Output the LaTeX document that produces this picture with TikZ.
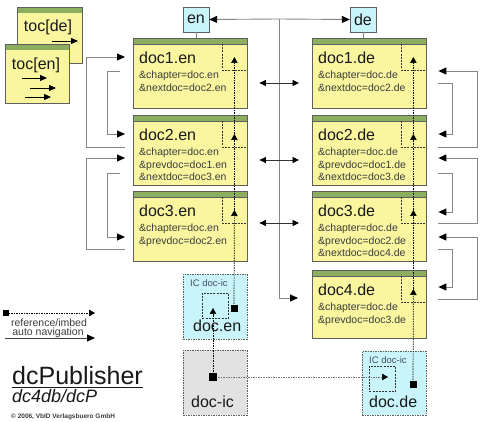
\documentclass[tikz,border=0pt]{standalone}
\usepackage{fontspec}
\setmainfont{Liberation Sans}
\usetikzlibrary{arrows.meta,calc}
\definecolor{yel}{RGB}{250,246,160}
\definecolor{barc}{RGB}{140,175,95}
\definecolor{boxc}{RGB}{95,95,95}
\definecolor{cyanf}{RGB}{200,244,250}
\definecolor{grayf}{RGB}{226,226,226}
\definecolor{linec}{RGB}{135,135,135}
\definecolor{txtc}{RGB}{25,25,25}
\definecolor{subc}{RGB}{60,60,60}
\definecolor{icc}{RGB}{70,80,100}
\tikzset{
  docbox/.style={fill=yel, minimum width=114pt, minimum height=70pt, inner sep=0, anchor=north west},
  ttl/.style={font=\fontsize{16}{18}\selectfont, text=txtc, inner sep=0, anchor=west},
  sub/.style={font=\fontsize{10.5}{12.5}\selectfont, text=subc, inner sep=0, anchor=north west, align=left},
  cornerl/.style={draw=black!80, dash pattern=on 2pt off 1.2pt, line width=0.6pt},
  nav/.style={draw=linec, line width=0.9pt, -{Triangle[color=black,length=8pt,width=7pt]}},
  dbl/.style={draw=black!80, line width=0.9pt, {Triangle[color=black,length=6.5pt,width=6pt]}-{Triangle[color=black,length=6.5pt,width=6pt]}},
  refl/.style={draw=black, dash pattern=on 1.5pt off 1pt, line width=0.7pt, -{Triangle[color=black,length=6pt,width=6.5pt]}},
  tocarr/.style={draw=black, line width=0.8pt, -{Triangle[color=black,length=7pt,width=6pt]}},
  sq/.style={fill=black, inner sep=0, minimum size=7pt},
  langbox/.style={draw=boxc, fill=cyanf, minimum width=26pt, minimum height=25pt, inner sep=0, font=\fontsize{16}{18}\selectfont, text=txtc},
  icbox/.style={draw=boxc, fill=cyanf, dash pattern=on 1.5pt off 1pt, line width=0.6pt, inner sep=0, anchor=north west, minimum width=64pt, minimum height=65pt},
  icgray/.style={icbox, fill=grayf},
  innersq/.style={cornerl, inner sep=0, minimum width=26pt, minimum height=25pt, anchor=north west},
  ictxt/.style={font=\fontsize{9.5}{11}\selectfont, text=icc, inner sep=0, anchor=west},
  bigtxt/.style={font=\fontsize{16}{18}\selectfont, text=txtc, inner sep=0, anchor=west},
  tocbox/.style={fill=yel, inner sep=0, anchor=north west},
  legtxt/.style={font=\fontsize{10.5}{12}\selectfont, text=subc, inner sep=0},
}
\newcommand\mkdoc[5][]{%
  \node[docbox,#1] (#2) at #3 {};
  \fill[barc] (#2.north west) rectangle ($(#2.north east)+(0,6)$);
  \draw[boxc, line width=0.7pt] (#2.north west) rectangle (#2.south east);
  \draw[boxc, line width=0.5pt] ($(#2.north west)+(0,6)$) -- ($(#2.north east)+(0,6)$);
  \node[ttl] (#2-t) at ($(#2.north west)+(6,19.5)$) {#4};
  \node[sub] (#2-s) at ($(#2.north west)+(6,33)$) {#5};
  \draw[cornerl] ($(#2.north east)+(-25,6)$) -- ($(#2.north east)+(-25,32)$) -- ($(#2.north east)+(0,32)$);
  \coordinate (#2-tip) at ($(#2.north east)+(-13,19)$);
}
\begin{document}
\begin{tikzpicture}[x=1pt,y=-1pt]
\useasboundingbox[fill=white] (0,0) rectangle (483,422);

% toc boxes
\node[tocbox, minimum width=65pt, minimum height=56pt] (tocde) at (17,7) {};
\fill[barc] (tocde.north west) rectangle ($(tocde.north east)+(0,6)$);
\draw[boxc, line width=0.7pt] (tocde.north west) rectangle (tocde.south east);
\node[bigtxt, anchor=center] (tocdet) at (48,27.5) {toc[de]};
\draw[tocarr] ($(tocde.north west)+(35,34)$) -- ($(tocde.north west)+(61,34)$);

\node[tocbox, minimum width=64pt, minimum height=59pt] (tocen) at (5,44) {};
\fill[barc] (tocen.north west) rectangle ($(tocen.north east)+(0,6)$);
\draw[boxc, line width=0.7pt] (tocen.north west) rectangle (tocen.south east);
\node[bigtxt, anchor=center] (tocent) at (36,65) {toc[en]};
\draw[tocarr] ($(tocen.north west)+(17,34)$) -- ($(tocen.north west)+(42,34)$);
\draw[tocarr] ($(tocen.north west)+(25,44)$) -- ($(tocen.north west)+(51,44)$);
\draw[tocarr] ($(tocen.north west)+(20,53)$) -- ($(tocen.north west)+(46,53)$);

% language nodes
\node[langbox] (en) at (196,19.5) {en};
\node[langbox] (de) at (363,19.5) {de};

% documents
\mkdoc{d1en}{(133,38)}{doc1.en}{\&chapter=doc.en\\\&nextdoc=doc2.en}
\mkdoc{d2en}{(133,115)}{doc2.en}{\&chapter=doc.en\\\&prevdoc=doc1.en\\\&nextdoc=doc3.en}
\mkdoc{d3en}{(133,191)}{doc3.en}{\&chapter=doc.en\\\&prevdoc=doc2.en}
\mkdoc{d1de}{(312,38)}{doc1.de}{\&chapter=doc.de\\\&nextdoc=doc2.de}
\mkdoc{d2de}{(312,115)}{doc2.de}{\&chapter=doc.de\\\&prevdoc=doc1.de\\\&nextdoc=doc3.de}
\mkdoc{d3de}{(312,191)}{doc3.de}{\&chapter=doc.de\\\&prevdoc=doc2.de\\\&nextdoc=doc4.de}
\mkdoc[minimum height=68pt]{d4de}{(312,270)}{doc4.de}{\&chapter=doc.de\\\&prevdoc=doc3.de}

% language to doc1
\draw[linec, line width=0.9pt] (en.south) -- (en.south |- d1en.north);
\draw[linec, line width=0.9pt] (de.south) -- (de.south |- d1de.north);

% hub
\coordinate (hub) at (279,19);
\coordinate (d4in) at ($(d4de.north west)+(-14,28)$);
\draw[nav] (hub) -- (en.east);
\draw[nav] (hub) -- (de.west);
\draw[nav] (hub) |- (d4in);

% double arrows
\draw[dbl] ($(d1en.north east)+(12,45)$) -- ($(d1de.north west)+(-13,45)$);
\draw[dbl] ($(d2en.north east)+(12,45)$) -- ($(d2de.north west)+(-13,45)$);
\draw[dbl] ($(d3en.north east)+(12,32)$) -- ($(d3de.north west)+(-13,32)$);

% left navigation (en)
\draw[nav] ($(d2en.north west)+(-8,32)$) -- ++(-39,0) |- ($(d1en.north west)+(-8,19)$);
\draw[nav] ($(d1en.north west)+(-13,33)$) -- ++(-13,0) |- ($(d2en.north west)+(-8,19)$);
\draw[nav] ($(d3en.north west)+(-8,58)$) -- ++(-39,0) |- ($(d2en.north west)+(-8,43)$);
\draw[nav] ($(d2en.north west)+(-13,58)$) -- ++(-13,0) |- ($(d3en.north west)+(-8,46)$);

% right navigation (de)
\draw[nav] ($(d2de.north east)+(12,32)$) -- ++(39,0) |- ($(d1de.north east)+(12,33)$);
\draw[nav] ($(d1de.north east)+(12,45)$) -- ++(14,0) |- ($(d2de.north east)+(12,19)$);
\draw[nav] ($(d3de.north east)+(12,32)$) -- ++(39,0) |- ($(d2de.north east)+(12,43)$);
\draw[nav] ($(d2de.north east)+(12,58)$) -- ++(14,0) |- ($(d3de.north east)+(12,21)$);
\draw[nav] ($(d4de.north east)+(12,29)$) -- ++(39,0) |- ($(d3de.north east)+(12,46)$);
\draw[nav] ($(d3de.north east)+(12,58)$) -- ++(14,0) |- ($(d4de.north east)+(12,17)$);

% IC boxes
\node[icbox] (docen) at (183,274) {};
\node[ictxt] (docenic) at (190,283.5) {IC doc-ic};
\node[bigtxt] (docent) at (193,326) {doc.en};
\node[innersq] (enin) at (202,293) {};
\coordinate (enintip) at (213,308);

\node[icgray] (docic) at (183,350) {};
\node[bigtxt] (docict) at (191,402) {doc-ic};

\node[icbox, minimum height=64pt] (docde) at (362,351) {};
\node[ictxt] (docdeic) at (369,360) {IC doc-ic};
\node[bigtxt] (docdet) at (369,402) {doc.de};
\node[innersq] (dein) at (369,366) {};
\coordinate (deintip) at (388,377);

% reference lines
\coordinate (sqicc) at (213,377);
\coordinate (sqenc) at (234,309);
\coordinate (sqdec) at (413,385);
\draw[refl] (sqicc) -- (enintip);
\draw[refl, draw=black!55] (sqicc) -- (deintip);
\draw[refl] (sqenc) -- (d3en-tip);
\draw[refl] (d3en-tip) -- (d2en-tip);
\draw[refl] (d2en-tip) -- (d1en-tip);
\draw[refl] (sqdec) -- (d4de-tip);
\draw[refl] (d4de-tip) -- (d3de-tip);
\draw[refl] (d3de-tip) -- (d2de-tip);
\draw[refl] (d2de-tip) -- (d1de-tip);
\node[sq, minimum size=8pt] (sqic) at (sqicc) {};
\node[sq] (sqen) at (sqenc) {};
\node[sq] (sqde) at (sqdec) {};

% legend
\node[sq, minimum size=5.5pt] (lsq) at (6,313) {};
\coordinate (lend) at (95,313);
\draw[refl] (lsq) -- (lend);
\node[legtxt] (lt1) at (49,323) {reference/imbed};
\node[legtxt] (lt2) at (48,333) {auto navigation};
\coordinate (ln1) at (5,338);
\coordinate (ln2) at (95,338);
\draw[nav, draw=black!75] (ln1) -- (ln2);

% title
\node[anchor=base west, font=\fontsize{25}{28}\selectfont, text=txtc, inner sep=0] (ttl) at (12,385) {dcPublisher};
\draw[txtc, line width=1.1pt] ($(ttl.base west)+(0,2.5)$) -- ($(ttl.base east)+(0,2.5)$);
\node[anchor=base west, font=\fontsize{18}{20}\selectfont\itshape, text=txtc, inner sep=0] (sub) at (12,403) {dc4db/dcP};
\node[anchor=base west, font=\fontsize{6.5}{8}\selectfont\bfseries, text=subc, inner sep=0] (copy) at (11,419) {\textcopyright{} 2006, VbID Verlagsbuero GmbH};
\end{tikzpicture}
\end{document}
